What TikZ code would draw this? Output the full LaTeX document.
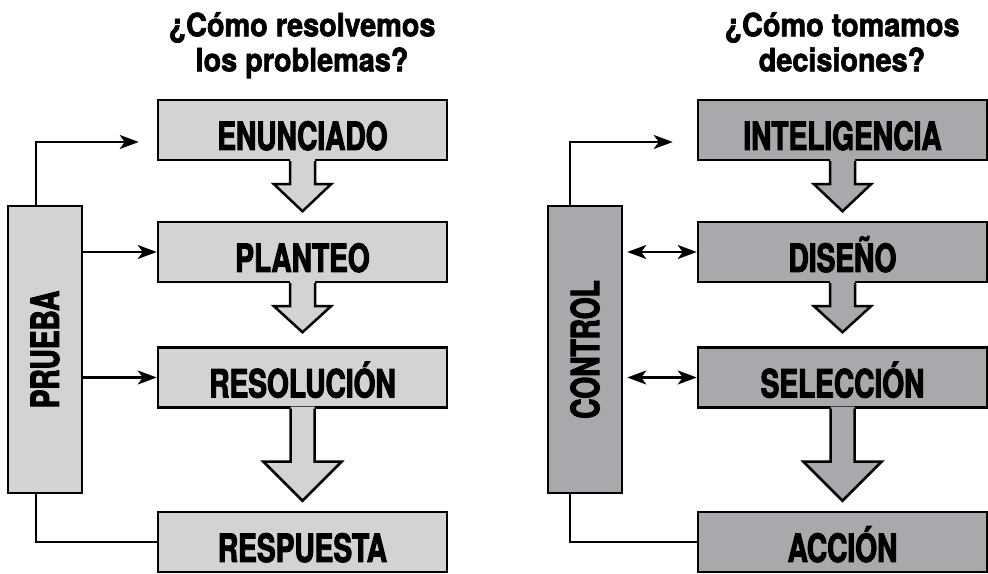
\documentclass[tikz,border=0pt]{standalone}
\usepackage{fontspec}
\newfontfamily\cajafont{TeX Gyre Heros}[FakeStretch=0.72,BoldFeatures={FakeBold=2.5}]
\newfontfamily\titulofont{TeX Gyre Heros}[FakeStretch=0.9,BoldFeatures={FakeBold=2}]
\usetikzlibrary{arrows.meta}
\definecolor{grisclaro}{RGB}{209,211,212}
\definecolor{grisoscuro}{RGB}{167,169,172}

\begin{document}
\begin{tikzpicture}[x=1pt,y=1pt,
   caja/.style={draw=black, line width=2.5pt, inner sep=0pt,
      font=\cajafont\bfseries\fontsize{39}{42}\selectfont},
   paso/.style={caja, minimum width=289pt, minimum height=60pt,
      text height=40pt, text depth=0pt},
   lateral/.style={caja, minimum width=74pt, minimum height=287pt},
   titulo/.style={align=center, inner sep=0pt, anchor=north,
      font=\titulofont\bfseries\fontsize{32}{35}\selectfont},
   enlace/.style={line width=2.4pt},
   punta/.style={-{Stealth[length=19pt,width=14pt,inset=5pt]}},
   dobles/.style={{Stealth[length=19pt,width=14pt,inset=5pt]}-{Stealth[length=19pt,width=14pt,inset=5pt]}},
   flecha/.style={draw=black, line width=2.5pt, line join=miter}]
   \useasboundingbox (0,0) rectangle (988,573);
   \node[titulo] (tit1) at (302,561) {¿Cómo resolvemos\\los problemas?};
   \node[titulo] (tit2) at (842,561) {¿Cómo tomamos\\decisiones?};
   \node[paso,fill=grisclaro] (enun) at (302.5,443) {ENUNCIADO};
   \node[paso,fill=grisclaro] (plant) at (302.5,321) {PLANTEO};
   \node[paso,fill=grisclaro] (resol) at (302.5,195.5) {RESOLUCIÓN};
   \node[paso,fill=grisclaro] (resp) at (302.5,31) {RESPUESTA};
   \node[lateral,fill=grisclaro] (prueba) at (45,223.5) {\rotatebox{90}{PRUEBA}};
   \node[paso,fill=grisoscuro] (intel) at (842.5,443) {INTELIGENCIA};
   \node[paso,fill=grisoscuro] (dise) at (842.5,321) {DISEÑO};
   \node[paso,fill=grisoscuro] (sele) at (842.5,195.5) {SELECCIÓN};
   \node[paso,fill=grisoscuro] (acci) at (842.5,31) {ACCIÓN};
   \node[lateral,fill=grisoscuro] (control) at (585,223.5) {\rotatebox{90}{CONTROL}};
   \foreach \n/\c/\s/\h/\l/\t in {enun/grisclaro/12.5/28.5/23/27, plant/grisclaro/12.5/28.5/23/26,
         resol/grisclaro/12/39/53/39, intel/grisoscuro/12.5/28.5/23/27,
         dise/grisoscuro/12.5/28.5/23/26, sele/grisoscuro/12/39/53/39} {
      \begin{scope}[shift={(\n.south)}]
         \fill[\c] (-\s,2) -- (-\s,-\l) -- (-\h,-\l) -- (0,-\l-\t) -- (\h,-\l) -- (\s,-\l) -- (\s,2) -- cycle;
         \draw[flecha] (-\s,0) -- (-\s,-\l) -- (-\h,-\l) -- (0,-\l-\t) -- (\h,-\l) -- (\s,-\l) -- (\s,0);
      \end{scope}
   }
   \draw[enlace,punta] ([xshift=-9pt]prueba.north) |- ([xshift=-18pt,yshift=-12pt]enun.west);
   \draw[enlace,punta] (prueba.east |- plant.west) -- (plant.west);
   \draw[enlace,punta] (prueba.east |- resol.west) -- (resol.west);
   \draw[enlace] ([xshift=-9pt]prueba.south) |- (resp.west);
   \draw[enlace,punta] ([xshift=-15pt]control.north) |- ([xshift=-24pt,yshift=-12pt]intel.west);
   \draw[enlace,dobles,shorten <=4pt] (control.east |- dise.west) -- (dise.west);
   \draw[enlace,dobles,shorten <=4pt] (control.east |- sele.west) -- (sele.west);
   \draw[enlace] ([xshift=-15pt]control.south) |- (acci.west);
\end{tikzpicture}
\end{document}
